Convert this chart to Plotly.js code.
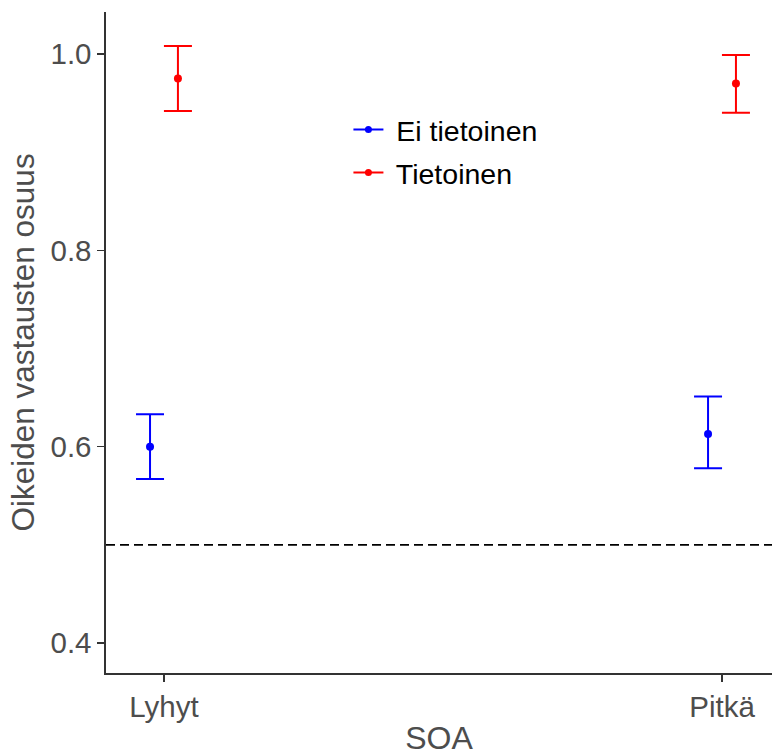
<!DOCTYPE html>
<html>
<head>
<meta charset="utf-8">
<script src="https://cdn.plot.ly/plotly-3.0.1.min.js"></script>
<style>html,body{margin:0;padding:0;background:#fff;}</style>
</head>
<body>
<div id="chart" style="width:772px;height:756px;"></div>
<script>
// Data
const categories = ["Lyhyt", "Pitkä"];
const seriesNames = ["Ei tietoinen", "Tietoinen"];
const seriesColors = ["#0000FF", "#FF0000"];
const eiMean = [0.600, 0.613];
const eiUpper = [0.633, 0.651];
const eiLower = [0.567, 0.578];
const tMean = [0.975, 0.970];
const tUpper = [1.008, 0.999];
const tLower = [0.942, 0.940];
const chanceLevel = 0.5;
const yTicks = [0.4, 0.6, 0.8, 1.0];
const yTickText = ["0.4", "0.6", "0.8", "1.0"];

const dodge = 0.025;
const idx = categories.map((c, i) => i);

function makeTrace(mean, upper, lower, color, offset) {
  return {
    type: "scatter",
    mode: "markers",
    x: idx.map(i => i + offset),
    y: mean,
    showlegend: false,
    marker: {color: color, size: 8},
    error_y: {
      type: "data",
      symmetric: false,
      array: upper.map((u, i) => u - mean[i]),
      arrayminus: mean.map((m, i) => m - lower[i]),
      color: color,
      thickness: 2,
      width: 14
    },
    hoverinfo: "skip"
  };
}

function legendTrace(name, color, group) {
  return {
    type: "scatter",
    mode: "lines+markers",
    x: [null], y: [null],
    name: " " + name,
    legendgroup: group,
    line: {color: color, width: 2},
    marker: {color: color, size: 7}
  };
}

const data = [
  makeTrace(eiMean, eiUpper, eiLower, seriesColors[0], -dodge),
  makeTrace(tMean, tUpper, tLower, seriesColors[1], dodge),
  legendTrace(seriesNames[0], seriesColors[0], "a"),
  legendTrace(seriesNames[1], seriesColors[1], "b")
];

const layout = {
  width: 772,
  height: 756,
  margin: {l: 106, r: 0, t: 12, b: 83},
  paper_bgcolor: "#fff",
  plot_bgcolor: "#fff",
  font: {family: "Liberation Sans, Arial, sans-serif", color: "#4d4d4d"},
  showlegend: true,
  legend: {
    x: 0.364, y: 0.86, xanchor: "left", yanchor: "top",
    bgcolor: "rgba(0,0,0,0)",
    font: {size: 28.5, color: "#000"},
    tracegroupgap: 3,
    traceorder: "grouped"
  },
  xaxis: {
    type: "linear",
    range: [-0.1039, 1.0896],
    tickvals: idx,
    ticktext: categories,
    showgrid: false,
    zeroline: false,
    showline: true,
    linecolor: "#333",
    linewidth: 1.6,
    ticks: "outside",
    ticklen: 7,
    tickwidth: 1.4,
    tickcolor: "#333",
    tickfont: {size: 29.5, color: "#4d4d4d"},
    title: {text: "SOA", font: {size: 32, color: "#4d4d4d"}, standoff: 6},
    fixedrange: true
  },
  yaxis: {
    range: [0.3695, 1.0427],
    tickvals: yTicks,
    ticktext: yTickText,
    showgrid: false,
    zeroline: false,
    showline: true,
    linecolor: "#333",
    linewidth: 1.6,
    ticks: "outside",
    ticklen: 7,
    tickwidth: 1.4,
    tickcolor: "#333",
    tickfont: {size: 29.5, color: "#4d4d4d"},
    title: {text: "Oikeiden vastausten osuus", font: {size: 31.5, color: "#4d4d4d"}, standoff: 6},
    fixedrange: true
  },
  shapes: [{
    type: "line",
    xref: "paper", x0: 0, x1: 1,
    yref: "y", y0: chanceLevel, y1: chanceLevel,
    line: {color: "#000", width: 1.6, dash: "9px,5px"}
  }]
};

Plotly.newPlot("chart", data, layout, {displayModeBar: false, staticPlot: true});
</script>
</body>
</html>
